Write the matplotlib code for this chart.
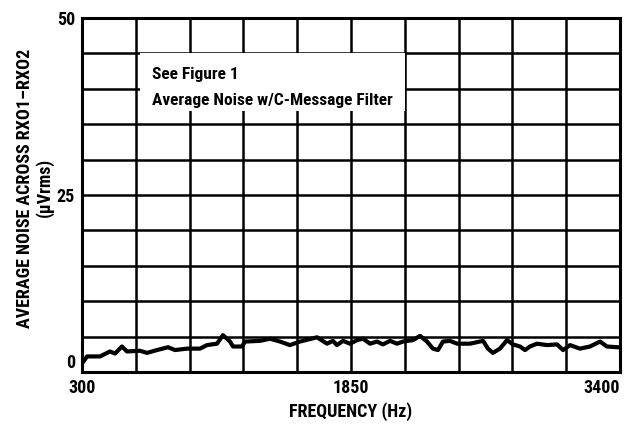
import matplotlib
matplotlib.use("Agg")
import matplotlib.pyplot as plt
from matplotlib.patches import Rectangle
from matplotlib import font_manager as fm

# ---- data ----
freq_hz = [300, 329, 404, 461, 490, 530, 559, 634, 675, 732, 796, 836, 905, 980,
           1020, 1078, 1112, 1153, 1170, 1222, 1239, 1326, 1383, 1441, 1498, 1556,
           1654, 1712, 1746, 1769, 1804, 1844, 1885, 1919, 1960, 2000, 2034, 2075,
           2115, 2150, 2207, 2248, 2288, 2322, 2351, 2380, 2420, 2461, 2536, 2611,
           2639, 2668, 2708, 2749, 2783, 2824, 2853, 2881, 2922, 2979, 3037, 3072,
           3112, 3169, 3227, 3285, 3325, 3383, 3400]
noise_uv = [1.2, 2.2, 2.2, 2.9, 2.6, 3.6, 2.9, 3.0, 2.7, 3.1, 3.5, 3.1, 3.3, 3.3,
            3.8, 4.0, 5.2, 4.3, 3.6, 3.6, 4.3, 4.4, 4.7, 4.3, 3.8, 4.3,
            4.9, 4.0, 4.4, 3.8, 4.4, 4.0, 4.5, 4.7, 4.0, 4.3, 3.9, 4.4,
            4.0, 4.3, 4.5, 5.1, 4.3, 3.3, 3.1, 4.3, 4.4, 4.0, 4.0, 4.4,
            3.3, 2.7, 3.3, 4.5, 3.9, 3.6, 3.1, 3.6, 4.0, 3.8, 3.9, 3.1,
            3.8, 3.3, 3.6, 4.3, 3.6, 3.5, 3.5]
x_ticks = [300, 1850, 3400]
y_ticks = [0, 25, 50]
annotation_lines = ["See Figure 1", "Average Noise w/C-Message Filter"]
x_label = "FREQUENCY (Hz)"
y_label = "AVERAGE NOISE ACROSS RXO1\u2013RXO2\n(\u03bcVrms)"

names = {f.name for f in fm.fontManager.ttflist}
pref = ["Roboto Condensed", "Liberation Sans Narrow", "Archivo Narrow", "Asap Condensed",
        "Barlow Condensed", "Liberation Sans"]
fam = [n for n in pref if n in names][:1] + ["DejaVu Sans"]

fig = plt.figure(figsize=(6.26, 4.34), dpi=100)
ax = fig.add_axes([82/626, 1-372/434, (620-82)/626, (372-18)/434])
ax.set_xlim(300, 3400)
ax.set_ylim(0, 50)

# grid
for i in range(11):
    ax.axvline(300 + i*310, color="black", lw=1.8, zorder=1)
    ax.axhline(i*5, color="black", lw=1.8, zorder=1)

# white annotation box covering grid
ax.add_patch(Rectangle((300 + 58*5.762, 50 - (111-18)/7.08), (405-140)*5.762, (111-53)/7.08,
                       facecolor="white", edgecolor="none", zorder=2))
ax.text(300 + (152-82)*5.762, 50 - (74-18)/7.08, annotation_lines[0], fontsize=12.5,
        family=fam, fontweight="bold", va="center", ha="left", zorder=3)
ax.text(300 + (152-82)*5.762, 50 - (101-18)/7.08, annotation_lines[1], fontsize=12.5,
        family=fam, fontweight="bold", va="center", ha="left", zorder=3)

ax.plot(freq_hz, noise_uv, color="black", lw=3.0, zorder=4, solid_joinstyle="round")

for s in ax.spines.values():
    s.set_linewidth(2.2)
    s.set_zorder(5)

ax.set_xticks(x_ticks)
ax.set_yticks(y_ticks)
ax.tick_params(length=0, pad=5)
ax.set_xticklabels([str(t) for t in x_ticks], family=fam, fontweight="bold", fontsize=13)
ax.set_yticklabels([str(t) for t in y_ticks], family=fam, fontweight="bold", fontsize=13)
xl = ax.get_xticklabels()
xl[-1].set_ha("right")
yl = ax.get_yticklabels()
yl[0].set_va("bottom")
yl[-1].set_va("center_baseline")

ax.set_xlabel(x_label, family=fam, fontweight="bold", fontsize=13, labelpad=4)
ax.set_ylabel(y_label, family=fam, fontweight="bold", fontsize=13, linespacing=1.05)
ax.yaxis.set_label_coords(-0.053, 0.52)

fig.savefig("out.png", dpi=100, facecolor="white")
